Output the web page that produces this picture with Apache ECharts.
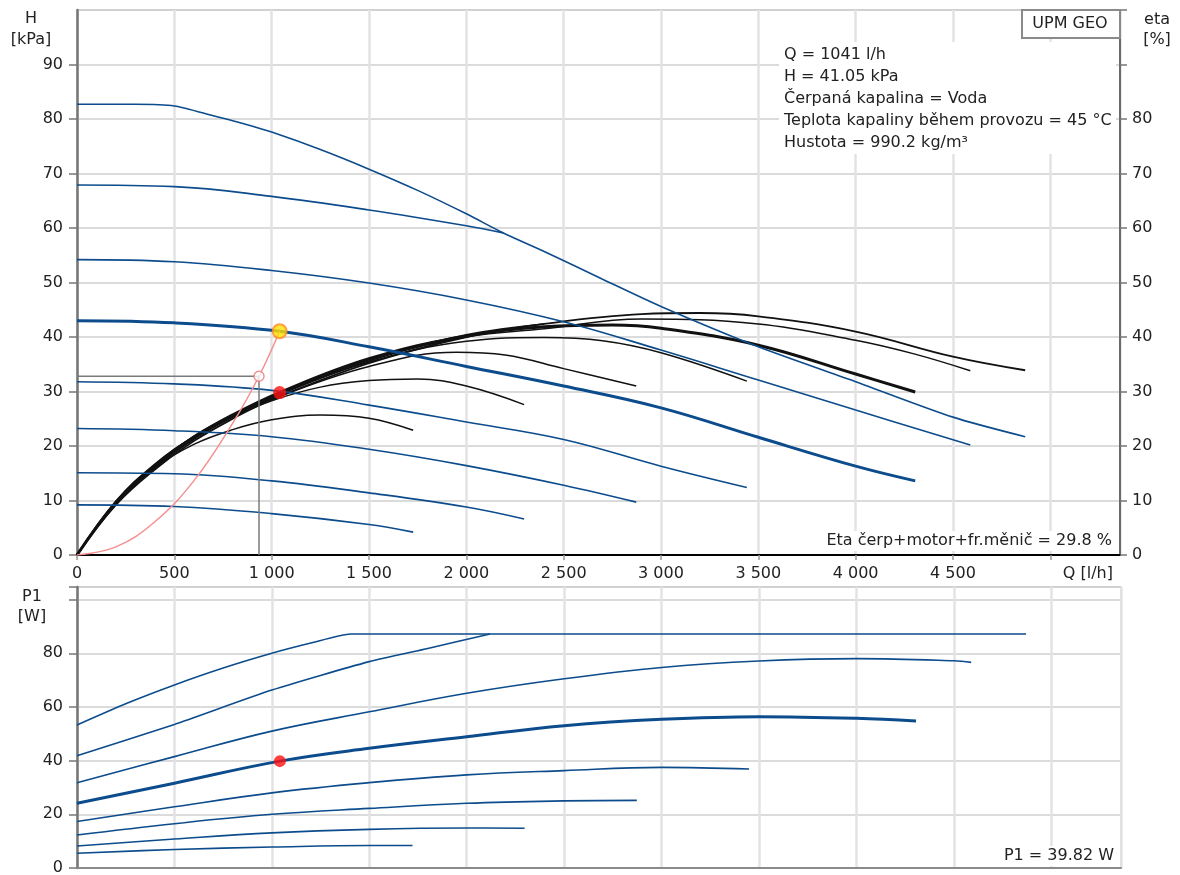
<!DOCTYPE html>
<html>
<head>
<meta charset="utf-8">
<script src="https://cdn.jsdelivr.net/npm/echarts@6/dist/echarts.min.js"></script>
<style>
  html, body { margin: 0; padding: 0; background: #fff; }
  #main { width: 1180px; height: 875px; }
</style>
</head>
<body>
<div id="main"></div>
<script>
// pump curves H [kPa] vs Q [l/h], one per speed step
const h83 = [[0,82.7],[300,82.7],[500,82.4],[700,80.6],[870,79.0],[1000,77.6],[1250,74.4],[1500,70.8],[1750,66.9],[2000,62.6],[2190,59.1],[2400,55.7],[2700,50.6],[3000,45.6],[3500,38.2],[4000,31.8],[4500,25.3],[4871,21.7]];
const h68 = [[0,67.9],[500,67.6],[1000,65.8],[1500,63.3],[2000,60.4],[2190,59.1]];
const h54 = [[0,54.2],[500,53.8],[1000,52.2],[1500,49.9],[2000,46.8],[2500,42.8],[3000,37.6],[3500,32.1],[4000,26.6],[4589,20.2]];
const h43 = [[0,43.0],[500,42.6],[1041,41.05],[1500,38.2],[2000,34.6],[2500,31.0],[3000,27.0],[3500,21.6],[4000,16.3],[4306,13.6]];
const h32 = [[0,31.8],[500,31.4],[1000,30.2],[1500,27.5],[2000,24.4],[2500,21.2],[3000,16.3],[3441,12.4]];
const h23 = [[0,23.2],[500,22.8],[1000,21.7],[1500,19.4],[2000,16.4],[2500,12.8],[2873,9.7]];
const h15 = [[0,15.1],[500,14.9],[1000,13.6],[1500,11.4],[2000,8.8],[2297,6.6]];
const h9 = [[0,9.2],[500,8.9],[1000,7.6],[1500,5.6],[1727,4.2]];

// efficiency curves eta [%]
const eta83 = [[0,0],[200,9.2],[400,15.7],[600,20.9],[800,25.0],[1000,28.5],[1500,35.2],[2000,40.0],[2400,42.4],[2900,44.2],[3200,44.4],[3500,43.8],[4000,41.0],[4500,36.4],[4871,33.9]];
const eta68 = [[0,0],[200,9.5],[400,16.2],[600,21.4],[800,25.5],[1000,29.0],[1500,35.8],[2000,40.4],[2400,42.4]];
const eta54 = [[0,0],[200,9.4],[400,16.0],[600,21.2],[800,25.3],[1000,28.8],[1500,35.6],[2000,40.0],[2400,41.5],[2900,43.3],[3500,42.4],[4000,39.4],[4300,36.9],[4589,33.8]];
const eta43 = [[0,0],[200,9.6],[400,16.3],[600,21.6],[800,25.7],[1041,29.8],[1500,36.0],[2000,40.2],[2400,41.9],[2750,42.2],[3000,41.6],[3500,38.5],[4000,33.2],[4306,29.9]];
const eta32 = [[0,0],[200,9.7],[400,16.5],[600,21.7],[800,25.7],[1000,29.0],[1500,35.4],[2000,39.2],[2400,39.9],[2700,39.3],[3000,37.1],[3441,31.9]];
const eta23 = [[0,0],[200,9.8],[400,16.6],[600,21.8],[800,25.6],[1000,28.6],[1500,34.6],[1950,37.2],[2200,36.7],[2500,34.2],[2873,31.0]];
const eta15 = [[0,0],[200,9.9],[400,16.7],[600,21.7],[800,25.3],[1000,28.3],[1250,30.8],[1500,32.0],[1750,32.3],[2000,31.0],[2297,27.6]];
const eta9 = [[0,0],[200,9.6],[400,16.0],[600,20.3],[800,23.0],[1000,24.8],[1250,25.7],[1500,25.1],[1727,22.9]];

// system curve and reading lines
const sysCurve = [[0,0],[200,1.5],[400,6.1],[600,13.6],[800,24.2],[935,32.8],[1041,41.05]];
const readLine = [[0,32.8],[935,32.8],[935,0]];
const readPoint = [[935,32.8]];
const dutyH = [[1041,41.05]];
const dutyEta = [[1041,29.8]];
const dutyP1 = [[1041,39.82]];

// power curves P1 [W]
const p1a = [[0,53.3],[250,61.2],[500,68.2],[750,74.5],[1000,80.0],[1200,83.8],[1405,87.2],[4871,87.2]];
const p1b = [[0,41.8],[500,53.5],[1000,66.3],[1500,76.9],[1800,81.8],[2120,87.2]];
const p1c = [[0,31.8],[500,41.5],[1000,51.0],[1500,58.2],[2000,65.1],[2500,70.5],[3000,74.7],[3500,77.1],[4000,78.0],[4500,77.2],[4589,76.6]];
const p1d = [[0,24.1],[500,31.6],[1041,39.82],[1500,44.6],[2000,48.9],[2500,53.0],[3000,55.4],[3500,56.4],[4000,55.8],[4306,54.8]];
const p1e = [[0,17.3],[500,22.8],[1000,28.0],[1500,31.8],[2000,34.7],[2500,36.3],[3000,37.5],[3449,36.9]];
const p1f = [[0,12.3],[500,16.5],[1000,20.0],[1500,22.2],[2000,24.1],[2500,25.0],[2873,25.2]];
const p1g = [[0,8.2],[500,10.8],[1000,13.1],[1500,14.4],[2000,14.9],[2297,14.8]];
const p1h = [[0,5.5],[500,6.9],[1000,7.8],[1500,8.4],[1722,8.4]];

const infoLines = ['Q = 1041 l/h', 'H = 41.05 kPa', 'Čerpaná kapalina = Voda', 'Teplota kapaliny během provozu = 45 °C', 'Hustota = 990.2 kg/m³'];

const BLUE = '#0c4c8c';
const BLACK = '#111';
const FONT = '"DejaVu Sans", sans-serif';
const TXT = '#222';

function curve(data, color, width, xi, yi, smooth) {
  return {
    type: 'line', data: data, xAxisIndex: xi, yAxisIndex: yi,
    symbol: 'none', smooth: smooth === undefined ? 0.4 : smooth, silent: true,
    lineStyle: { color: color, width: width }
  };
}

function fmtQ(v) {
  if (v % 500 !== 0 || v >= 5000) return '';
  return String(v).replace(/\B(?=(\d{3})+(?!\d))/g, ' ');
}

const labelStyle = { color: TXT, fontSize: 16, fontFamily: FONT };

function text(t, x, y, align) {
  return {
    type: 'text', z: 20,
    style: { text: t, x: x, y: y, fill: TXT, font: '16px ' + FONT, textAlign: align, textVerticalAlign: 'middle', align: align, verticalAlign: 'middle' }
  };
}

const chart = echarts.init(document.getElementById('main'));

const series = [
  curve(eta9, BLACK, 1.5, 0, 1),
  curve(eta15, BLACK, 1.5, 0, 1),
  curve(eta23, BLACK, 1.5, 0, 1),
  curve(eta32, BLACK, 1.5, 0, 1),
  curve(eta54, BLACK, 1.5, 0, 1),
  curve(eta68, BLACK, 1.5, 0, 1),
  curve(eta83, BLACK, 1.8, 0, 1),
  curve(eta43, BLACK, 3, 0, 1),
  curve(h83, BLUE, 1.6, 0, 0, 0.25),
  curve(h68, BLUE, 1.6, 0, 0),
  curve(h54, BLUE, 1.6, 0, 0),
  curve(h32, BLUE, 1.6, 0, 0),
  curve(h23, BLUE, 1.6, 0, 0),
  curve(h15, BLUE, 1.6, 0, 0),
  curve(h9, BLUE, 1.6, 0, 0),
  curve(h43, BLUE, 3, 0, 0),
  Object.assign(curve(sysCurve, '#f49090', 1.5, 0, 0), { z: 3 }),
  { type: 'line', data: readLine, xAxisIndex: 0, yAxisIndex: 0, symbol: 'none', silent: true, z: 3,
    lineStyle: { color: '#7a7a7a', width: 1.5 } },
  { type: 'scatter', data: readPoint, xAxisIndex: 0, yAxisIndex: 0, symbol: 'circle', symbolSize: 10, z: 5, silent: true,
    itemStyle: { color: '#fff', borderColor: '#f07878', borderWidth: 1.5 } },
  { type: 'scatter', data: dutyH, xAxisIndex: 0, yAxisIndex: 0, symbolSize: 14, z: 6, silent: true,
    itemStyle: { color: '#ffe000', borderColor: '#ff8a30', borderWidth: 2 } },
  { type: 'scatter', data: dutyEta, xAxisIndex: 0, yAxisIndex: 1, symbolSize: 13, z: 6, silent: true,
    itemStyle: { color: '#ff1010' } },
  curve(p1a, BLUE, 1.6, 1, 2, 0.2),
  curve(p1b, BLUE, 1.6, 1, 2, 0.2),
  curve(p1c, BLUE, 1.6, 1, 2),
  curve(p1e, BLUE, 1.6, 1, 2),
  curve(p1f, BLUE, 1.6, 1, 2),
  curve(p1g, BLUE, 1.6, 1, 2),
  curve(p1h, BLUE, 1.6, 1, 2),
  curve(p1d, BLUE, 3, 1, 2),
  { type: 'scatter', data: dutyP1, xAxisIndex: 1, yAxisIndex: 2, symbolSize: 12, z: 6, silent: true,
    itemStyle: { color: '#ff1010' } }
];

const vGrid = { show: true, lineStyle: { color: '#e3e3e7', width: 2.5 } };
const hGrid = { show: true, lineStyle: { color: '#cfcfcf', width: 1.5 } };

chart.setOption({
  animation: false,
  backgroundColor: '#fff',
  grid: [
    { left: 77, top: 10, width: 1043, height: 545, show: true, borderColor: '#c8c8c8', borderWidth: 1.5, containLabel: false, outerBoundsMode: 'none' },
    { left: 77, top: 587, width: 1044, height: 281, show: true, borderColor: '#c8c8c8', borderWidth: 1.5, containLabel: false, outerBoundsMode: 'none' }
  ],
  xAxis: [
    { type: 'value', gridIndex: 0, min: 0, max: 5358, interval: 500,
      axisLine: { show: true, onZero: false, lineStyle: { color: '#000', width: 2 } },
      axisTick: { show: true, length: 5, lineStyle: { color: '#999', width: 1.5 } },
      axisLabel: Object.assign({ margin: 11, showMaxLabel: false, formatter: fmtQ }, labelStyle),
      splitLine: vGrid },
    { type: 'value', gridIndex: 1, min: 0, max: 5358, interval: 500,
      axisLine: { show: true, onZero: false, lineStyle: { color: '#8a8a8a', width: 2 } },
      axisTick: { show: false }, axisLabel: { show: false },
      splitLine: vGrid }
  ],
  yAxis: [
    { type: 'value', gridIndex: 0, position: 'left', min: 0, max: 100, interval: 10,
      axisLine: { show: true, onZero: false, lineStyle: { color: '#777', width: 2.5 } },
      axisTick: { show: true, length: 8, lineStyle: { color: '#777', width: 1.5 } },
      axisLabel: Object.assign({ margin: 14, showMaxLabel: false }, labelStyle),
      splitLine: hGrid },
    { type: 'value', gridIndex: 0, position: 'right', min: 0, max: 100, interval: 10,
      axisLine: { show: true, onZero: false, lineStyle: { color: '#6a6a6a', width: 2 } },
      axisTick: { show: true, length: 7, lineStyle: { color: '#777', width: 1.5 } },
      axisLabel: Object.assign({ margin: 12, formatter: function (v) { return v >= 90 ? '' : String(v); } }, labelStyle),
      splitLine: { show: false } },
    { type: 'value', gridIndex: 1, position: 'left', min: 0, max: 104.7, interval: 20,
      axisLine: { show: true, onZero: false, lineStyle: { color: '#777', width: 2.5 } },
      axisTick: { show: true, length: 8, lineStyle: { color: '#777', width: 1.5 } },
      axisLabel: Object.assign({ margin: 14, formatter: function (v) { return v >= 100 ? '' : String(v); } }, labelStyle),
      splitLine: hGrid }
  ],
  graphic: [
    text('H', 31, 19, 'center'),
    text('[kPa]', 31, 40, 'center'),
    text('eta', 1157, 20, 'center'),
    text('[%]', 1157, 40, 'center'),
    text('P1', 32, 597, 'center'),
    text('[W]', 32, 617, 'center'),
    text('Q [l/h]', 1113, 574, 'right'),
    { type: 'rect', z: 19, shape: { x: 1022, y: 10, width: 98, height: 28 },
      style: { fill: '#fff', stroke: '#8a8a8a', lineWidth: 2 } },
    text('UPM GEO', 1070, 24, 'center'),
    { type: 'rect', z: 19, shape: { x: 779, y: 42, width: 337, height: 112 },
      style: { fill: '#fff' } },
    text(infoLines[0], 784, 55, 'left'),
    text(infoLines[1], 784, 77, 'left'),
    text(infoLines[2], 784, 99, 'left'),
    text(infoLines[3], 784, 121, 'left'),
    text(infoLines[4], 784, 143, 'left'),
    { type: 'rect', z: 19, shape: { x: 830, y: 531, width: 286, height: 20 },
      style: { fill: '#fff' } },
    text('Eta čerp+motor+fr.měnič = 29.8 %', 1112, 541, 'right'),
    { type: 'rect', z: 19, shape: { x: 995, y: 846, width: 122, height: 20 },
      style: { fill: '#fff' } },
    text('P1 = 39.82 W', 1114, 856, 'right')
  ],
  series: series
});
</script>
</body>
</html>
